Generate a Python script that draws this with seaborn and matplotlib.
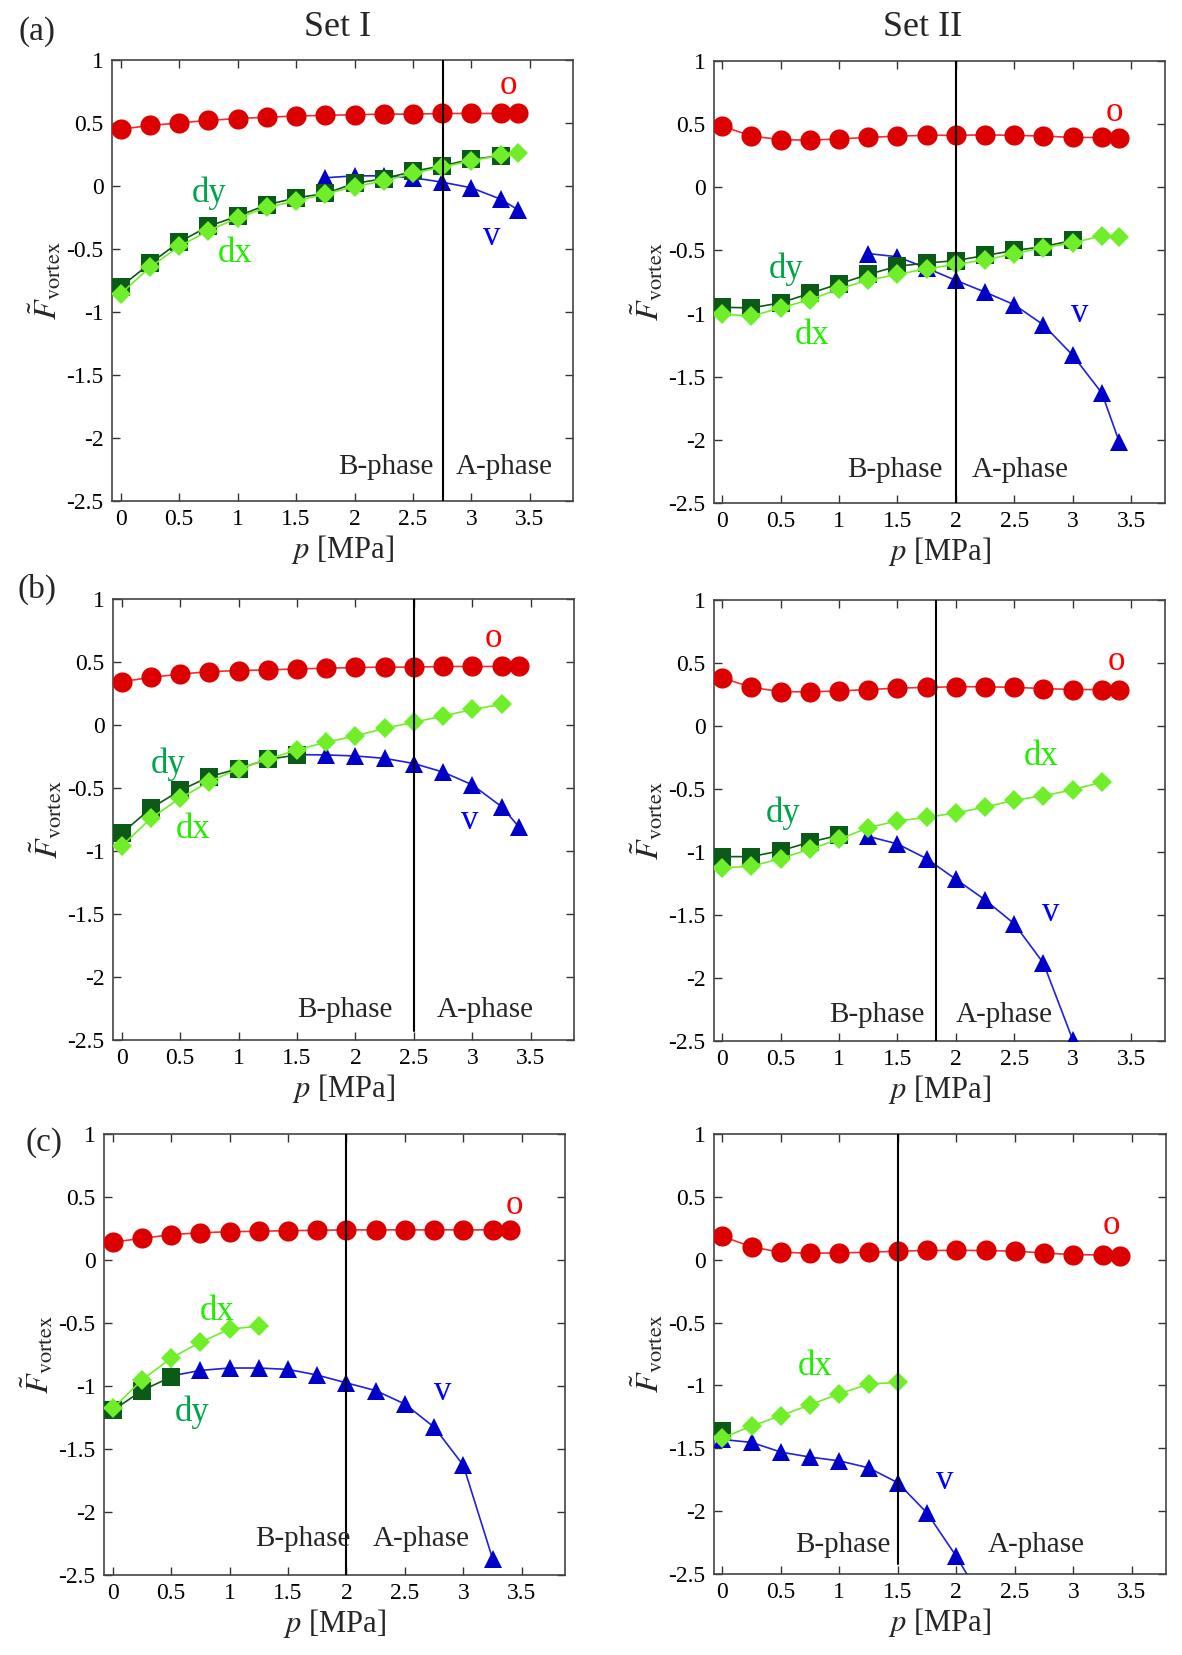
import numpy as np
import pandas as pd
import matplotlib
matplotlib.use("Agg")
import matplotlib.pyplot as plt
import seaborn as sns

# pressure grid [MPa]
P = [0, 0.25, 0.5, 0.75, 1.0, 1.25, 1.5, 1.75, 2.0, 2.25, 2.5, 2.75, 3.0, 3.25, 3.4]

# ---- (a) Set I
a1_o = [0.45, 0.48, 0.50, 0.52, 0.535, 0.545, 0.555, 0.56, 0.565, 0.57, 0.57, 0.575, 0.575, 0.575, 0.575]
a1_dy = [-0.80, -0.615, -0.445, -0.32, -0.24, -0.15, -0.095, -0.06, 0.02, 0.057, 0.115, 0.16, 0.21, 0.24]
a1_dx = [-0.855, -0.645, -0.48, -0.355, -0.255, -0.17, -0.12, -0.063, -0.006, 0.04, 0.10, 0.15, 0.20, 0.243, 0.26]
a1_vp = [1.75, 2.0, 2.25, 2.5, 2.75, 3.0, 3.25, 3.4]
a1_v = [0.065, 0.08, 0.08, 0.065, 0.03, -0.015, -0.105, -0.19]

# ---- (a) Set II
a2_o = [0.485, 0.406, 0.378, 0.373, 0.384, 0.395, 0.406, 0.412, 0.412, 0.415, 0.412, 0.406, 0.395, 0.395, 0.39]
a2_dy = [-0.95, -0.955, -0.915, -0.84, -0.765, -0.69, -0.625, -0.60, -0.58, -0.54, -0.50, -0.47, -0.42]
a2_dx = [-1.005, -1.02, -0.955, -0.89, -0.805, -0.735, -0.69, -0.645, -0.61, -0.575, -0.525, -0.477, -0.44, -0.384, -0.39]
a2_vp = [1.25, 1.5, 1.75, 2.0, 2.25, 2.5, 2.75, 3.0, 3.25, 3.4]
a2_v = [-0.525, -0.55, -0.64, -0.737, -0.83, -0.93, -1.09, -1.33, -1.63, -2.02]

# ---- (b) Set I
b1_o = [0.344, 0.377, 0.404, 0.423, 0.432, 0.437, 0.445, 0.45, 0.456, 0.459, 0.459, 0.464, 0.464, 0.464, 0.464]
b1_dy = [-0.86, -0.66, -0.52, -0.41, -0.347, -0.273, -0.238]
b1_dx = [-0.96, -0.74, -0.58, -0.45, -0.347, -0.273, -0.197, -0.137, -0.087, -0.027, 0.022, 0.071, 0.123, 0.164]
b1_vp = [1.5, 1.75, 2.0, 2.25, 2.5, 2.75, 3.0, 3.25, 3.4]
b1_v = [-0.235, -0.238, -0.246, -0.265, -0.306, -0.374, -0.475, -0.648, -0.81]

# ---- (b) Set II
b2_o = [0.382, 0.306, 0.273, 0.27, 0.278, 0.289, 0.30, 0.306, 0.311, 0.311, 0.306, 0.297, 0.289, 0.289, 0.286]
b2_dy = [-1.037, -1.037, -0.99, -0.922, -0.867]
b2_dx = [-1.127, -1.113, -1.053, -0.977, -0.90, -0.807, -0.753, -0.726, -0.69, -0.644, -0.589, -0.554, -0.507, -0.445]
b2_vp = [1.25, 1.5, 1.75, 2.0, 2.25, 2.5, 2.75, 3.0]
b2_v = [-0.876, -0.936, -1.053, -1.217, -1.38, -1.57, -1.883, -2.49]

# ---- (c) Set I
c1_o = [0.143, 0.171, 0.202, 0.216, 0.225, 0.228, 0.233, 0.236, 0.239, 0.239, 0.239, 0.239, 0.239, 0.239, 0.239]
c1_dy = [-1.194, -1.036, -0.927]
c1_dx = [-1.177, -0.952, -0.778, -0.652, -0.548, -0.525]
c1_vp = [0.5, 0.75, 1.0, 1.25, 1.5, 1.75, 2.0, 2.25, 2.5, 2.75, 3.0, 3.25]
c1_v = [-0.92, -0.876, -0.857, -0.857, -0.868, -0.913, -0.975, -1.036, -1.143, -1.326, -1.629, -2.37]

# ---- (c) Set II
c2_o = [0.186, 0.101, 0.059, 0.051, 0.053, 0.059, 0.067, 0.073, 0.073, 0.073, 0.067, 0.053, 0.039, 0.037, 0.031]
c2_dy = [-1.36]
c2_dx = [-1.417, -1.324, -1.24, -1.155, -1.066, -0.99, -0.976]
c2_vp = [0.0, 0.25, 0.5, 0.75, 1.0, 1.25, 1.5, 1.75, 2.0, 2.25]
c2_v = [-1.43, -1.453, -1.53, -1.57, -1.60, -1.655, -1.774, -2.015, -2.36, -2.75]

# phase boundary (B/A) pressure per panel
boundary = [2.76, 2.0, 2.5, 1.83, 2.0, 1.5]

RED, RED_L = "#dc0000", "#ee3030"
BLUE, BLUE_L = "#0000c8", "#2020dd"
DKGREEN = "#0b5a18"
LTGREEN = "#70ee2a"

sns.set_style("ticks")
plt.rcParams["font.family"] = ["Liberation Serif", "DejaVu Serif"]
plt.rcParams["mathtext.fontset"] = "stix"

fig = plt.figure(figsize=(11.82, 16.55), dpi=100)

# axes rectangles [left, bottom, width, height]
rects = [
    [0.0948, 0.6973, 0.390, 0.2665], [0.604, 0.6961, 0.3816, 0.267],
    [0.0956, 0.3716, 0.390, 0.2665], [0.604, 0.371, 0.3816, 0.2665],
    [0.0880, 0.0483, 0.390, 0.2665], [0.604, 0.0489, 0.3824, 0.2660],
]
xlims = [(-0.075, 3.87), (-0.071, 3.79)] * 3
vline_ymin = [0, 0, 0.02, 0, 0, 0.022]

panels = [
    (a1_o, a1_dy, a1_dx, a1_vp, a1_v),
    (a2_o, a2_dy, a2_dx, a2_vp, a2_v),
    (b1_o, b1_dy, b1_dx, b1_vp, b1_v),
    (b2_o, b2_dy, b2_dx, b2_vp, b2_v),
    (c1_o, c1_dy, c1_dx, c1_vp, c1_v),
    (c2_o, c2_dy, c2_dx, c2_vp, c2_v),
]

# series labels: (text, x, y, colour) per panel
labels = [
    [("o", 3.32, 0.80, "#ff0000"), ("dy", 0.76, -0.06, "#00a548"), ("dx", 0.98, -0.54, "#22ee00"), ("v", 3.17, -0.40, "#0000ff")],
    [("o", 3.36, 0.59, "#ff0000"), ("dy", 0.55, -0.65, "#00a548"), ("dx", 0.77, -1.17, "#22ee00"), ("v", 3.06, -1.0, "#0000ff")],
    [("o", 3.18, 0.69, "#ff0000"), ("dy", 0.40, -0.31, "#00a548"), ("dx", 0.61, -0.83, "#22ee00"), ("v", 2.98, -0.76, "#0000ff")],
    [("o", 3.37, 0.51, "#ff0000"), ("dy", 0.52, -0.69, "#00a548"), ("dx", 2.73, -0.24, "#22ee00"), ("v", 2.81, -1.48, "#0000ff")],
    [("o", 3.44, 0.43, "#ff0000"), ("dy", 0.68, -1.21, "#00a548"), ("dx", 0.89, -0.41, "#22ee00"), ("v", 2.82, -1.045, "#0000ff")],
    [("o", 3.32, 0.27, "#ff0000"), ("dx", 0.79, -0.85, "#22ee00"), ("v", 1.90, -1.755, "#0000ff")],
]
# phase labels: (B x, A x, y)
phase_pos = [(2.27, 3.28, -2.23), (1.48, 2.55, -2.24), (1.91, 3.11, -2.26),
             (1.32, 2.41, -2.29), (1.63, 2.64, -2.21), (1.03, 2.68, -2.27)]

for i, (o, dy, dx, vp, v) in enumerate(panels):
    ax = fig.add_axes(rects[i])
    common = dict(estimator=None, sort=False, ax=ax, markeredgewidth=0, legend=False)
    sns.lineplot(x=vp, y=v, color=BLUE_L, marker="^", markersize=12.5,
                 markerfacecolor=BLUE, linewidth=1.2, zorder=3, **common)
    sns.lineplot(x=P[:len(dy)], y=dy, color=DKGREEN, marker="s", markersize=13,
                 linewidth=1.2, zorder=4, **common)
    sns.lineplot(x=P[:len(dx)], y=dx, color=LTGREEN, marker="D", markersize=10,
                 linewidth=1.2, zorder=5, **common)
    sns.lineplot(x=P[:len(o)], y=o, color=RED_L, marker="o", markersize=14.5,
                 markerfacecolor=RED, linewidth=1.2, zorder=6, **common)

    ax.axvline(boundary[i], ymin=vline_ymin[i], ymax=1, color="black", lw=1.5, zorder=7)

    ax.set_xlim(*xlims[i])
    ax.set_ylim(-2.5, 1)
    ax.set_xticks([0, 0.5, 1, 1.5, 2, 2.5, 3, 3.5])
    ax.set_xticklabels(["0", "0.5", "1", "1.5", "2", "2.5", "3", "3.5"])
    ax.set_yticks([-2.5, -2, -1.5, -1, -0.5, 0, 0.5, 1])
    ax.set_yticklabels(["-2.5", "-2", "-1.5", "-1", "-0.5", "0", "0.5", "1"])
    ax.tick_params(direction="in", top=True, right=True, length=6, width=1,
                   labelsize=17, colors="#333333", labelcolor="black", pad=6)
    for s in ax.spines.values():
        s.set_color("#444444")
        s.set_linewidth(1.2)

    ax.set_xlabel("$p$ [MPa]", fontsize=22, labelpad=2)
    ax.set_ylabel(r"$\tilde{F}_{\mathrm{vortex}}$", fontsize=23, labelpad=2)

    for txt, tx, ty, col in labels[i]:
        ax.text(tx, ty, txt, color=col, fontsize=25, ha="center", va="center", zorder=8)
    bx, axp, py = phase_pos[i]
    ax.text(bx, py, "B-phase", fontsize=21, ha="center", va="center", zorder=8)
    ax.text(axp, py, "A-phase", fontsize=21, ha="center", va="center", zorder=8)

fig.text(338 / 1182, 1 - 28 / 1655, "Set I", fontsize=26, ha="center", va="center")
fig.text(923 / 1182, 1 - 28 / 1655, "Set II", fontsize=26, ha="center", va="center")
fig.text(37 / 1182, 1 - 32 / 1655, "(a)", fontsize=24, ha="center", va="center")
fig.text(37 / 1182, 1 - 589 / 1655, "(b)", fontsize=24, ha="center", va="center")
fig.text(44 / 1182, 1 - 1143 / 1655, "(c)", fontsize=24, ha="center", va="center")

fig.savefig("out.png", dpi=100)
